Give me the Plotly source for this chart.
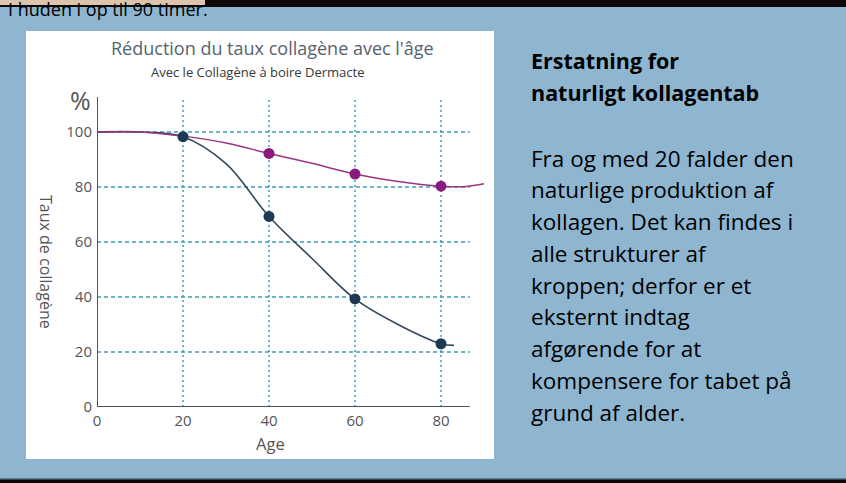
import plotly.graph_objects as go

W, H = 846, 483

# ---------------- data ----------------
age_ticks = [0, 20, 40, 60, 80]
pct_ticks = [0, 20, 40, 60, 80, 100]

# with Dermacte (magenta)
with_line_age = [0, 10, 20, 30, 40, 50, 60, 70, 80, 85, 90]
with_line_val = [100, 100, 98.5, 96, 92.2, 88.6, 84.7, 82, 80.3, 80.1, 81.2]
with_mark_age = [40, 60, 80]
with_mark_val = [92.2, 84.7, 80.3]

# natural decline (navy)
nat_line_age = [0, 10, 20, 30, 40, 50, 60, 70, 80, 83]
nat_line_val = [100, 100, 98.3, 88.5, 69.3, 54, 39.3, 30, 23, 22.4]
nat_mark_age = [20, 40, 60, 80]
nat_mark_val = [98.3, 69.3, 39.3, 23]

chart_title = "Réduction du taux collagène avec l'âge"
chart_subtitle = "Avec le Collagène à boire Dermacte"
y_title = "Taux de collagène"
x_title = "Age"
top_text = "I huden i op til 90 timer."
side_heading = ["Erstatning for", "naturligt kollagentab"]
side_body = [
    "Fra og med 20 falder den",
    "naturlige produktion af",
    "kollagen. Det kan findes i",
    "alle strukturer af",
    "kroppen; derfor er et",
    "eksternt indtag",
    "afgørende for at",
    "kompensere for tabet på",
    "grund af alder.",
]

# ---------------- helpers ----------------
def px(x):
    return x / W

def py(y):
    return 1 - y / H

X0, XPU = 97, 4.3     # pixel of age 0, pixels per unit
Y0, YPU = 407, 2.75   # pixel of 0 %, pixels per unit
XMAX, YMAX = 91, 113
AX_XEND, AX_YEND = 86.7, 112.7

BLUE = "#8fb6d0"
GRID = "#3f9db5"
AXC = "#4f5357"
MAG = "#8a1a80"
NAVY = "#1c3a55"
FONT = "Open Sans"

fig = go.Figure()

fig.add_trace(go.Scatter(x=nat_line_age, y=nat_line_val, mode="lines",
                         line=dict(color="#34495c", width=1.6, shape="spline", smoothing=1.0),
                         hoverinfo="skip"))
fig.add_trace(go.Scatter(x=with_line_age, y=with_line_val, mode="lines",
                         line=dict(color="#9a3583", width=1.5, shape="spline", smoothing=1.0),
                         hoverinfo="skip"))
fig.add_trace(go.Scatter(x=nat_mark_age, y=nat_mark_val, mode="markers",
                         marker=dict(color=NAVY, size=11), cliponaxis=False))
fig.add_trace(go.Scatter(x=with_mark_age, y=with_mark_val, mode="markers",
                         marker=dict(color=MAG, size=11), cliponaxis=False))

shapes = []
# backgrounds
shapes.append(dict(type="rect", xref="paper", yref="paper", x0=0, x1=1, y0=0, y1=1,
                   fillcolor="#0c0808", line_width=0, layer="below"))
shapes.append(dict(type="rect", xref="paper", yref="paper", x0=0, x1=px(205), y0=py(5), y1=1,
                   fillcolor="#dcc4ad", line_width=0, layer="below"))
shapes.append(dict(type="rect", xref="paper", yref="paper", x0=0, x1=1, y0=py(478), y1=py(7),
                   fillcolor=BLUE, line_width=0, layer="below"))
shapes.append(dict(type="rect", xref="paper", yref="paper", x0=0, x1=1, y0=py(479.5), y1=py(478),
                   fillcolor="#5d7d92", line_width=0, layer="below"))
shapes.append(dict(type="rect", xref="paper", yref="paper", x0=px(26), x1=px(494), y0=py(459), y1=py(31),
                   fillcolor="white", line_width=0, layer="below"))
# grid
for v in pct_ticks[1:]:
    shapes.append(dict(type="line", xref="x", yref="y", x0=0, x1=AX_XEND, y0=v, y1=v,
                       line=dict(color=GRID, width=1.5, dash="4px,3px"), layer="below"))
for a in age_ticks[1:]:
    shapes.append(dict(type="line", xref="x", yref="y", x0=a, x1=a, y0=0, y1=AX_YEND,
                       line=dict(color=GRID, width=1.5, dash="2px,3px"), layer="below"))
# axes
shapes.append(dict(type="line", xref="x", yref="y", x0=-0.3, x1=AX_XEND, y0=0, y1=0,
                   line=dict(color=AXC, width=2)))
shapes.append(dict(type="line", xref="x", yref="y", x0=0, x1=0, y0=0, y1=AX_YEND,
                   line=dict(color=AXC, width=2)))


def note(text, x, y, size, color, xanchor="center", angle=0, bold=False):
    return dict(text=("<b>" + text + "</b>") if bold else text, x=px(x), y=py(y),
                xref="paper", yref="paper", xanchor=xanchor, yanchor="middle",
                textangle=angle, showarrow=False, borderpad=0, borderwidth=0,
                font=dict(family=FONT, size=size, color=color))


ann = []
ann.append(note(chart_title, 272, 48, 18, "#56636e"))
ann.append(note(chart_subtitle, 258, 72, 13, "#383838"))
ann.append(note("%", 80, 100, 25, "#555"))
ann.append(note(y_title, 46, 262, 16, "#555", angle=90))
ann.append(note(x_title, 270, 443, 16.5, "#555"))
ann.append(note(top_text, 8, 8.5, 18, "#000", xanchor="left"))
for i, t in enumerate(side_heading):
    ann.append(note(t, 531, 60 + 32 * i, 21.5, "#000", xanchor="left", bold=True))
for i, t in enumerate(side_body):
    ann.append(note(t, 531, 158 + 31.75 * i, 22.5, "#000", xanchor="left"))

fig.update_layout(
    width=W, height=H, margin=dict(l=0, r=0, t=0, b=0, autoexpand=False),
    paper_bgcolor=BLUE, plot_bgcolor="rgba(0,0,0,0)", showlegend=False,
    shapes=shapes, annotations=ann,
    xaxis=dict(domain=[px(X0), px(X0 + XMAX * XPU)], range=[0, XMAX], tickvals=age_ticks,
               showgrid=False, zeroline=False, showline=False, ticks="", automargin=False,
               tickfont=dict(family=FONT, size=15, color="#555"), ticklabelstandoff=3),
    yaxis=dict(domain=[py(Y0), py(Y0 - YMAX * YPU)], range=[0, YMAX], tickvals=pct_ticks,
               showgrid=False, zeroline=False, showline=False, ticks="", automargin=False,
               tickfont=dict(family=FONT, size=15, color="#555"), ticklabelstandoff=4),
)

fig.write_html("out.html", config={"displayModeBar": False},
               post_script="document.body.style.margin='0';document.body.style.overflow='hidden';")
